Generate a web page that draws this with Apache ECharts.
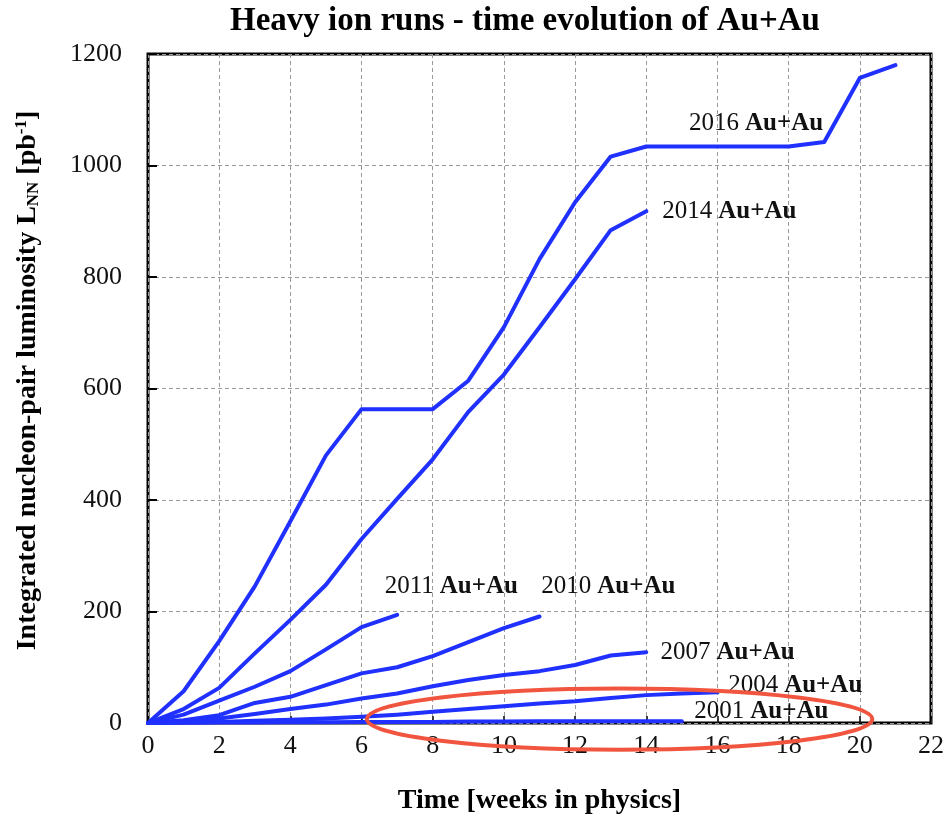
<!DOCTYPE html>
<html>
<head>
<meta charset="utf-8">
<script src="https://cdn.jsdelivr.net/npm/echarts@6/dist/echarts.min.js"></script>
<style>
  html, body { margin: 0; padding: 0; background: #fff; }
  #chart { width: 947px; height: 820px; }
</style>
</head>
<body>
<div id="chart"></div>
<script>
// Integrated nucleon-pair luminosity per week of physics running, one array per run year
const lumi2016 = [0, 57, 147, 245, 362, 480, 563, 563, 563, 614, 710, 832, 934, 1016, 1034, 1034, 1034, 1034, 1034, 1042, 1157, 1180];
const lumi2014 = [0, 25, 63, 125, 185, 248, 330, 402, 473, 558, 625, 710, 796, 884, 918];
const lumi2011 = [0, 15, 40, 65, 93, 132, 172, 194];
const lumi2010 = [0, 5, 14, 36, 47, 68, 89, 100, 120, 145, 170, 191];
const lumi2007 = [0, 3, 8, 16, 25, 33, 44, 53, 66, 77, 86, 93, 104, 121, 127];
const lumi2004 = [0, 1, 2, 4, 6, 8, 11, 15, 20, 25, 30, 35, 39, 45, 50, 53, 55];
const lumi2001 = [0, 0.5, 1, 1, 1.5, 1.5, 2, 2, 2, 2.5, 2.5, 3, 3, 3, 3, 3];

const runYears = ['2016', '2014', '2011', '2010', '2007', '2004', '2001'];
const runSeries = [lumi2016, lumi2014, lumi2011, lumi2010, lumi2007, lumi2004, lumi2001];
// where each run's caption starts, in [weeks, luminosity]
const captionAnchors = [[15.2, 1075], [14.45, 918], [6.65, 245], [11.05, 245], [14.4, 127], [16.3, 68], [15.35, 21]];
const speciesText = 'Au+Au';

// highlighted region around the small early runs, in [weeks, luminosity]
const ringCenter = [13.25, 7];
const ringRadius = [7.1, 55];

const serif = 'Liberation Serif, Times New Roman, serif';
const lineBlue = '#1f30ff';

const chart = echarts.init(document.getElementById('chart'));

const series = runYears.map((year, i) => ({
  name: year,
  type: 'line',
  data: runSeries[i].map((v, w) => [w, v]),
  showSymbol: false,
  symbol: 'none',
  lineStyle: { color: lineBlue, width: 4, cap: 'round', join: 'round' },
  clip: false,
  z: 3,
  markPoint: {
    symbol: 'circle',
    symbolSize: 0,
    itemStyle: { color: 'rgba(0,0,0,0)' },
    label: {
      show: true,
      position: 'right',
      distance: 0,
      formatter: '{y|' + year + '}{s|' + speciesText + '}',
      rich: {
        y: { fontFamily: serif, fontSize: 25, color: '#111', padding: [0, 6, 0, 0] },
        s: { fontFamily: serif, fontSize: 25, fontWeight: 'bold', color: '#111' }
      }
    },
    data: [{ coord: captionAnchors[i] }]
  }
}));

chart.setOption({
  animation: false,
  backgroundColor: '#fff',
  grid: {
    left: 148, right: 12, top: 54, bottom: 95,
    show: true, borderColor: '#000', borderWidth: 3, backgroundColor: 'transparent'
  },
  xAxis: {
    type: 'value', min: 0, max: 22, interval: 2,
    name: 'Time [weeks in physics]',
    nameLocation: 'middle', nameGap: 64,
    nameTextStyle: { fontFamily: serif, fontSize: 28, fontWeight: 'bold', color: '#000' },
    axisLine: { show: false },
    axisTick: { show: true, inside: true, length: 7, lineStyle: { color: '#000', width: 1.5 } },
    axisLabel: { fontFamily: serif, fontSize: 26, color: '#111', margin: 10, formatter: v => String(v) },
    splitLine: { show: true, lineStyle: { color: '#9a9a9a', type: [4, 3], width: 1 } }
  },
  yAxis: {
    type: 'value', min: 0, max: 1200, interval: 200,
    name: 'Integrated nucleon-pair luminosity L{sub|NN} [pb{sup|-1}]',
    nameLocation: 'middle', nameGap: 106, nameRotate: 90,
    nameTextStyle: {
      fontFamily: serif, fontSize: 28, fontWeight: 'bold', color: '#000',
      padding: [0, 0, 0, 16],
      rich: {
        sub: { fontFamily: serif, fontSize: 17, fontWeight: 'bold', color: '#000', verticalAlign: 'bottom', padding: [12, 0, 0, 0] },
        sup: { fontFamily: serif, fontSize: 17, fontWeight: 'bold', color: '#000', verticalAlign: 'top', padding: [0, 0, 12, 0] }
      }
    },
    axisLine: { show: false },
    axisTick: { show: true, inside: true, length: 9, lineStyle: { color: '#000', width: 2 } },
    axisLabel: { fontFamily: serif, fontSize: 26, color: '#111', margin: 26, formatter: v => String(v) },
    splitLine: { show: true, lineStyle: { color: '#9a9a9a', type: [4, 3], width: 1 } }
  },
  series: series
});

// title and highlight ring are laid out from the axis scales
const c = chart.convertToPixel({ gridIndex: 0 }, ringCenter);
const e = chart.convertToPixel({ gridIndex: 0 }, [ringCenter[0] + ringRadius[0], ringCenter[1] + ringRadius[1]]);
chart.setOption({
  graphic: [
    {
      type: 'text', x: 525, y: 5,
      style: {
        text: 'Heavy ion runs - time evolution of Au+Au',
        fontFamily: serif, fontSize: 33, fontWeight: 'bold', fill: '#000',
        textAlign: 'center', textVerticalAlign: 'top'
      }
    },
    {
      type: 'ellipse',
      shape: { cx: c[0], cy: c[1], rx: Math.abs(e[0] - c[0]), ry: Math.abs(c[1] - e[1]) },
      style: { fill: 'none', stroke: '#f2553f', lineWidth: 4 },
      z: 10
    }
  ]
});
</script>
</body>
</html>
